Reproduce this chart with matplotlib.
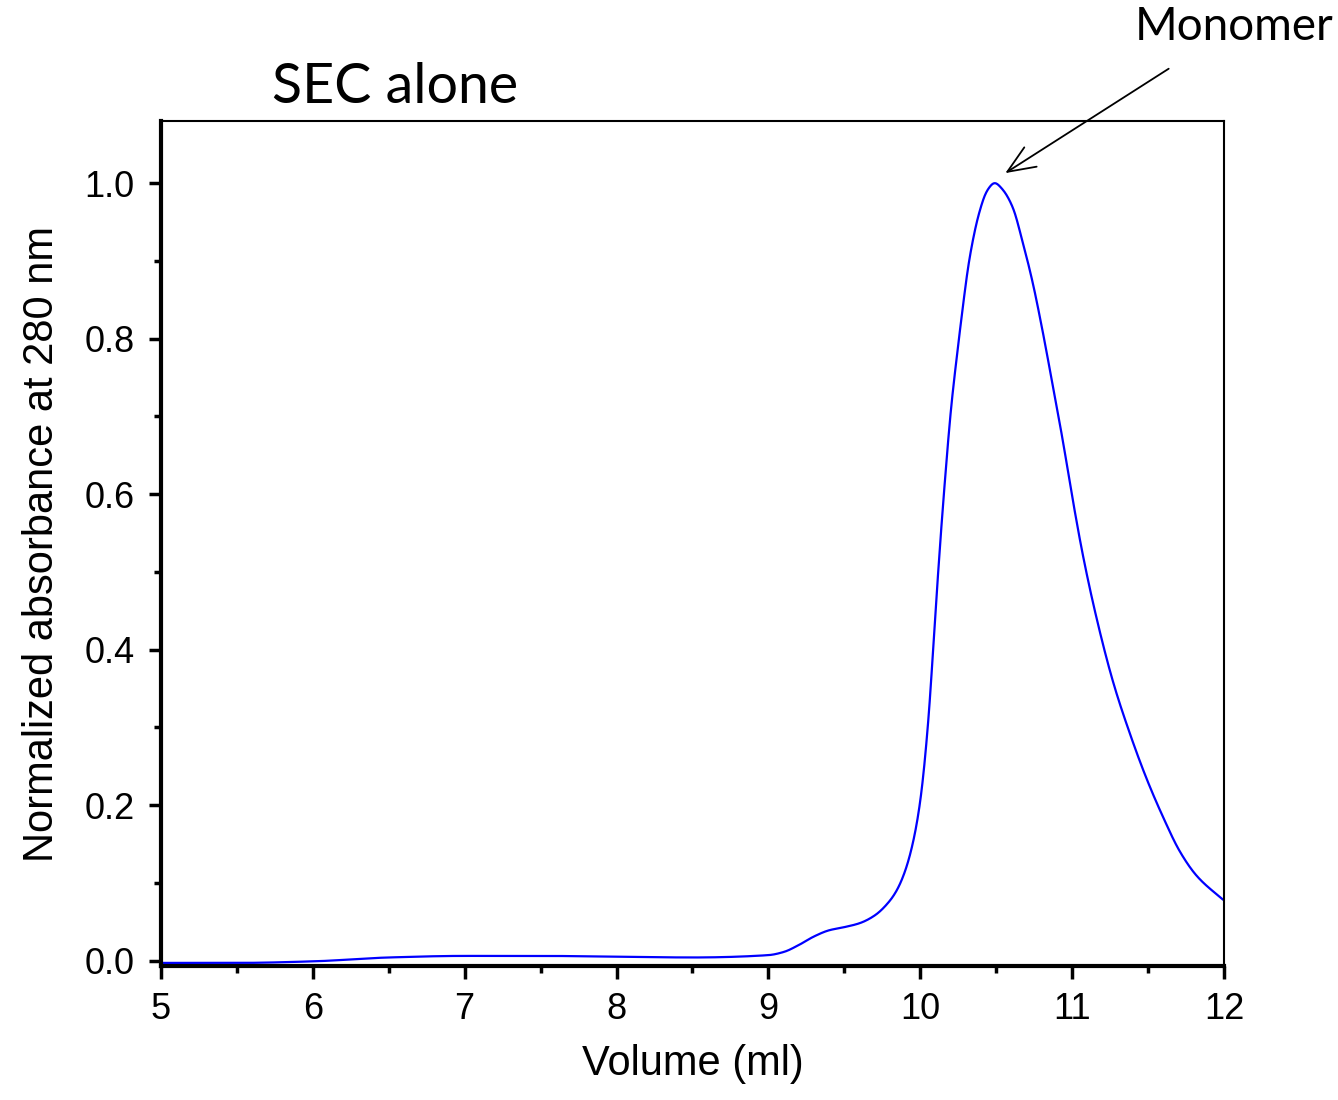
import numpy as np
import matplotlib
matplotlib.use('Agg')
from matplotlib import pyplot as plt
from matplotlib.ticker import MultipleLocator

# elution profile
volume = [5.0, 5.5, 6.0, 6.5, 7.0, 7.5, 8.0, 8.5, 9.0, 9.1, 9.2, 9.3, 9.4, 9.5,
          9.6, 9.7, 9.8, 9.85, 9.9, 9.95, 10.0, 10.06, 10.09, 10.136, 10.17, 10.2,
          10.25, 10.28, 10.32, 10.39, 10.44, 10.49, 10.54, 10.61, 10.67, 10.74,
          10.8, 10.87, 10.94, 11.0, 11.07, 11.16, 11.27, 11.38, 11.49, 11.6,
          11.71, 11.82, 12.0]
absorbance = [-0.003, -0.003, -0.001, 0.004, 0.006, 0.006, 0.005, 0.004, 0.007,
              0.011, 0.02, 0.031, 0.039, 0.043, 0.048, 0.058, 0.077, 0.092,
              0.115, 0.15, 0.205, 0.326, 0.418, 0.55, 0.636, 0.705, 0.792,
              0.84, 0.898, 0.963, 0.99, 1.0, 0.992, 0.968, 0.927, 0.872, 0.815,
              0.742, 0.667, 0.597, 0.522, 0.441, 0.358, 0.292, 0.234, 0.184,
              0.14, 0.109, 0.077]


def pchip(x, y, xs):
    x = np.asarray(x, float)
    y = np.asarray(y, float)
    h = np.diff(x)
    d = np.diff(y) / h
    m = np.zeros_like(y)
    for i in range(1, len(x) - 1):
        if d[i - 1] * d[i] > 0:
            w1 = 2 * h[i] + h[i - 1]
            w2 = h[i] + 2 * h[i - 1]
            m[i] = (w1 + w2) / (w1 / d[i - 1] + w2 / d[i])
    m[0], m[-1] = d[0], d[-1]
    idx = np.clip(np.searchsorted(x, xs) - 1, 0, len(x) - 2)
    t = (xs - x[idx]) / h[idx]
    h00 = 2 * t**3 - 3 * t**2 + 1
    h10 = t**3 - 2 * t**2 + t
    h01 = -2 * t**3 + 3 * t**2
    h11 = t**3 - t**2
    return h00 * y[idx] + h10 * h[idx] * m[idx] + h01 * y[idx + 1] + h11 * h[idx] * m[idx + 1]


xs = np.linspace(volume[0], volume[-1], 2800)
ys = pchip(volume, absorbance, xs)
k = np.ones(13) / 13
ys = np.convolve(np.pad(ys, 6, mode='edge'), k, mode='valid')
ys = ys / ys.max()

fig = plt.figure(figsize=(13.38, 11), dpi=100)
ax = fig.add_axes([0.1203, 0.1218, 0.7945, 0.7682])
ax.plot(xs, ys, color='#0000ff', lw=1.6)

ax.set_xlim(5, 12)
ax.set_ylim(-0.007, 1.08)
ax.xaxis.set_major_locator(MultipleLocator(1))
ax.xaxis.set_minor_locator(MultipleLocator(0.5))
ax.yaxis.set_minor_locator(MultipleLocator(0.1))
ax.set_yticks(np.arange(0, 1.01, 0.2), [f'{v:.1f}' for v in np.arange(0, 1.01, 0.2)])

for s in ['left', 'bottom']:
    ax.spines[s].set_linewidth(3)
for s in ['top', 'right']:
    ax.spines[s].set_linewidth(1.5)
ax.tick_params(which='major', direction='out', length=9, width=2.5,
               labelsize=26, pad=10)
ax.tick_params(which='minor', direction='out', length=5, width=2.5)
for lab in ax.get_xticklabels() + ax.get_yticklabels():
    lab.set_fontfamily('Liberation Sans')

ax.set_xlabel('Volume (ml)', fontsize=30, family='Liberation Sans', labelpad=12)
ax.set_ylabel('Normalized absorbance at 280 nm', fontsize=30,
              family='Liberation Sans', labelpad=16)

fig.text(0.203, 1 - 103 / 1100, 'SEC alone', fontsize=40, family='Lato',
         va='baseline')
ax.annotate('Monomer', xy=(10.56, 1.013), xycoords='data',
            xytext=(1234 / 1338, 1 - 27 / 1100), textcoords='figure fraction',
            fontsize=33, family='Lato', ha='center', va='center',
            arrowprops=dict(arrowstyle='->,head_length=0.6,head_width=0.25',
                            color='black', lw=1.3, shrinkA=24, shrinkB=0))

plt.savefig('out.png', dpi=100)
